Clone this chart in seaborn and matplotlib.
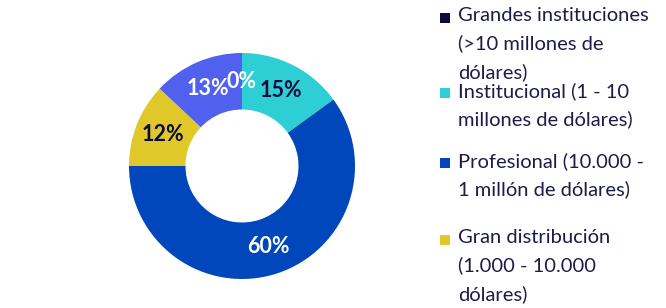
import matplotlib
matplotlib.use("Agg")
import matplotlib.pyplot as plt
import seaborn as sns
from matplotlib.patches import Rectangle

categories = ["Grandes instituciones\n(>10 millones de\ndólares)",
              "Institucional (1 - 10\nmillones de dólares)",
              "Profesional (10.000 -\n1 millón de dólares)",
              "Gran distribución\n(1.000 - 10.000\ndólares)",
              "Otros"]
values = [0, 15, 60, 12, 13]
colors = ["#0b0b3d", "#2ecfd4", "#0047bb", "#e0c82a", "#5061ef"]
label_colors = ["white", "#0b0b3d", "white", "#0b0b3d", "white"]
legend_tops = [18, 93, 163, 240]  # pixel y of first line of each legend entry

sns.set_theme(style="white")
plt.rcParams['font.family'] = ['Lato', 'DejaVu Sans']

W, H = 666, 308
fig = plt.figure(figsize=(W / 100, H / 100), dpi=100)
cx, cy, r = 242, 166, 113
ax = fig.add_axes([(cx - r) / W, (H - cy - r) / H, 2 * r / W, 2 * r / H])

wedges, texts, autotexts = ax.pie(
    values, colors=colors, startangle=90, counterclock=False,
    wedgeprops=dict(width=0.5, edgecolor="none"),
    autopct="%1.0f%%", pctdistance=0.75,
    textprops=dict(fontsize=15.5, fontweight="bold"))
for t, c in zip(autotexts, label_colors):
    t.set_color(c)
ax.set_xlim(-1, 1)
ax.set_ylim(-1, 1)
ax.set_aspect("equal")
ax.axis("off")

text_color = "#1c1c48"
for i, top in enumerate(legend_tops):
    fig.patches.append(Rectangle((440 / W, (H - top - 5) / H), 10 / W, 10 / H,
                                 transform=fig.transFigure, facecolor=colors[i],
                                 edgecolor="none"))
    fig.text(458 / W, (H - top + 11) / H, categories[i], ha="left", va="top",
             fontsize=14.5, color=text_color, linespacing=1.7)

fig.savefig("out.png", dpi=100)
